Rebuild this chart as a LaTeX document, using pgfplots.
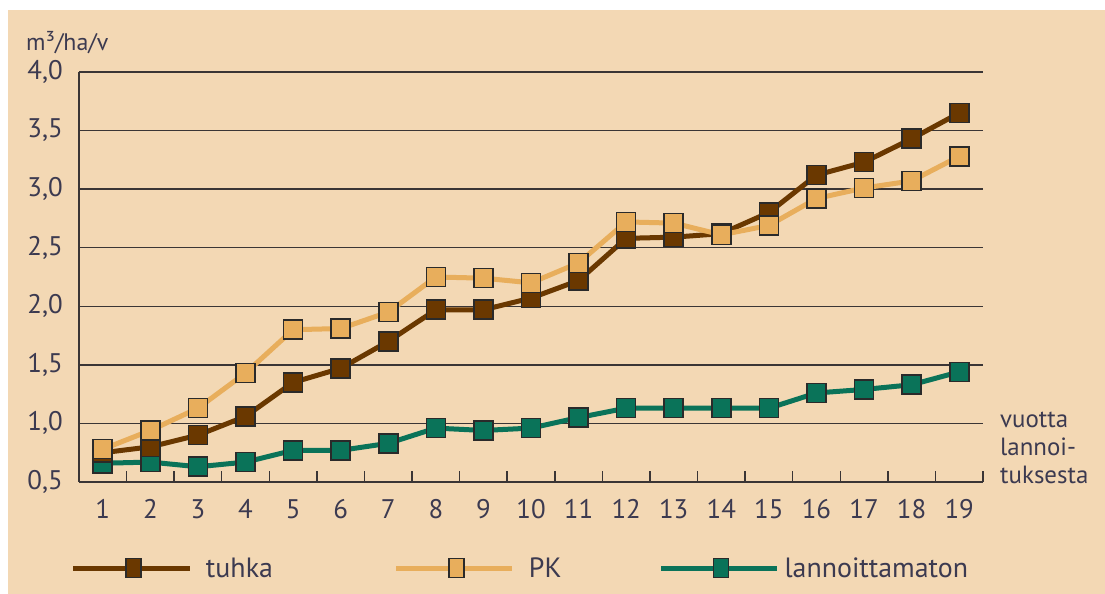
\documentclass[border=0pt]{standalone}
\usepackage{pgfplots}
\pgfplotsset{compat=1.18}
\usepackage{fontspec}
\setmainfont{PT Sans}
\definecolor{bg}{HTML}{F3D8B4}
\definecolor{gridc}{HTML}{3A3535}
\definecolor{txt}{HTML}{3C3A50}
\definecolor{tuhkac}{HTML}{6A3800}
\definecolor{pkc}{HTML}{E8AE5C}
\definecolor{greenc}{HTML}{0A7359}
\definecolor{mkdraw}{HTML}{2A2A2A}
\begin{document}
\begin{tikzpicture}[x=1bp,y=1bp]
\path[use as bounding box] (-79,-112) rectangle (1026,482);
\fill[white] (-79,-112) rectangle (1026,482);
\fill[bg] (-71,-112) rectangle (1026,472);
\begin{axis}[at={(0,0)}, anchor=south west, scale only axis,
  width=904bp, height=410bp,
  xmin=0.5, xmax=19.5, ymin=0.5, ymax=4.0,
  axis x line*=bottom, axis y line*=left,
  axis line style={-, line width=1.5bp, color=gridc},
  ytick={0.5,1,1.5,2,2.5,3,3.5,4},
  yticklabels={{0,5},{1,0},{1,5},{2,0},{2,5},{3,0},{3,5},{4,0}},
  ymajorgrids, grid style={line width=1.3bp, color=gridc},
  ytick style={draw=none},
  xtick={1.5,2.5,...,19.5},
  xticklabels={},
  xtick style={line width=1.5bp, color=gridc},
  major tick length=11bp, tick align=inside,
  extra x ticks={1,2,...,19},
  extra x tick labels={1,2,3,4,5,6,7,8,9,10,11,12,13,14,15,16,17,18,19},
  extra x tick style={xtick style={draw=none}, xmajorgrids=false},
  yticklabel style={font=\fontsize{27}{30}\selectfont, color=txt, anchor=east, inner sep=0pt, xshift=-16bp},
  xticklabel style={font=\fontsize{27}{30}\selectfont, color=txt, anchor=north, inner sep=0pt, yshift=-17bp},
  clip=false,
  legend style={at={(-0.00885,-0.2098)}, anchor=west, draw=none, fill=none,
     inner sep=0pt, outer sep=0pt, legend columns=3,
     font=\fontsize{28}{30}\selectfont, text=txt,
     nodes={inner sep=5bp},
     /tikz/column 1/.style={column sep=9bp},
     /tikz/column 2/.style={column sep=116bp},
     /tikz/column 3/.style={column sep=9bp},
     /tikz/column 4/.style={column sep=92bp},
     /tikz/column 5/.style={column sep=0bp}},
  legend image code/.code={\draw[#1, mark repeat=2, mark phase=2, every mark/.append style={xscale=0.8}] plot coordinates {(0bp,0bp) (60bp,0bp) (116bp,0bp)};},
]
\addplot[forget plot, color=greenc, line width=5bp, mark=square*, mark size=9.5bp,
  mark options={fill=greenc, draw=mkdraw, line width=1.6bp}] coordinates {
(1,0.66) (2,0.67) (3,0.63) (4,0.67) (5,0.77) (6,0.77) (7,0.83) (8,0.96) (9,0.94) (10,0.96)
(11,1.05) (12,1.13) (13,1.13) (14,1.13) (15,1.13) (16,1.26) (17,1.29) (18,1.33) (19,1.44)};
\addplot[forget plot, color=tuhkac, line width=5bp, mark=square*, mark size=9.5bp,
  mark options={fill=tuhkac, draw=mkdraw, line width=1.6bp}] coordinates {
(1,0.75) (2,0.80) (3,0.90) (4,1.06) (5,1.35) (6,1.47) (7,1.70) (8,1.97) (9,1.97) (10,2.07)
(11,2.22) (12,2.58) (13,2.59) (14,2.62) (15,2.80) (16,3.12) (17,3.23) (18,3.43) (19,3.65)};
\addplot[forget plot, color=pkc, line width=5bp, mark=square*, mark size=9.5bp,
  mark options={fill=pkc, draw=mkdraw, line width=1.6bp}] coordinates {
(1,0.78) (2,0.94) (3,1.13) (4,1.43) (5,1.80) (6,1.81) (7,1.95) (8,2.25) (9,2.24) (10,2.20)
(11,2.37) (12,2.72) (13,2.71) (14,2.61) (15,2.69) (16,2.92) (17,3.01) (18,3.07) (19,3.28)};
\addlegendimage{color=tuhkac, line width=5bp, mark=square*, mark size=9.5bp, mark options={fill=tuhkac, draw=mkdraw, line width=1.6bp}}
\addlegendentry{tuhka}
\addlegendimage{color=pkc, line width=5bp, mark=square*, mark size=9.5bp, mark options={fill=pkc, draw=mkdraw, line width=1.6bp}}
\addlegendentry{PK}
\addlegendimage{color=greenc, line width=5bp, mark=square*, mark size=9.5bp, mark options={fill=greenc, draw=mkdraw, line width=1.6bp}}
\addlegendentry{lannoittamaton}
\end{axis}
\node[anchor=west, inner sep=0pt, text=txt, font=\fontsize{24}{26}\selectfont] at (-53,439) {m³/ha/v};
\node[anchor=west, inner sep=0pt, text=txt, font=\fontsize{25}{27}\selectfont] at (921,62) {vuotta};
\node[anchor=west, inner sep=0pt, text=txt, font=\fontsize{25}{27}\selectfont] at (921,35) {lannoi-};
\node[anchor=west, inner sep=0pt, text=txt, font=\fontsize{25}{27}\selectfont] at (921,7) {tuksesta};
\end{tikzpicture}
\end{document}
